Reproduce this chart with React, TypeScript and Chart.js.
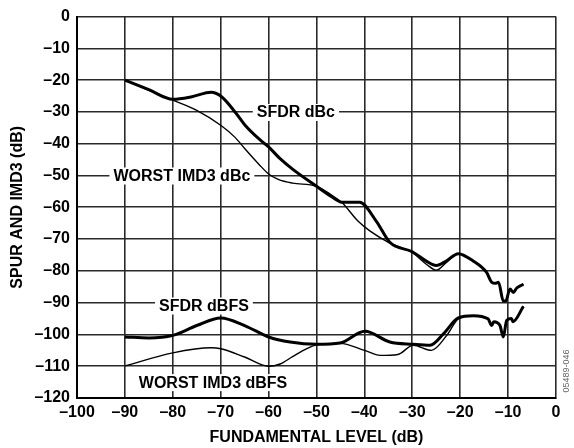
import React, { useEffect, useRef } from "react";
import { Chart, registerables } from "chart.js";

Chart.register(...registerables);

const X_TICKS = [-100, -90, -80, -70, -60, -50, -40, -30, -20, -10, 0];
const Y_TICKS = [0, -10, -20, -30, -40, -50, -60, -70, -80, -90, -100, -110, -120];

const sfdrDbcX = [-90, -85, -80, -76, -72, -70, -67, -65, -62, -60, -57.6, -55, -50, -47, -44.7, -41, -37.5, -34.7, -30, -27, -25, -23, -20.4, -17.3, -14.5, -13.4, -12.7, -12, -11, -10.5, -9.6, -8.9, -8.2, -6.8];
const sfdrDbcY = [-20, -23, -26, -25.2, -23.8, -25, -30, -34, -38.5, -41, -44.7, -48, -53.4, -56.5, -58.4, -58.4, -64.4, -71, -74, -77, -78.3, -77, -74.6, -76.9, -80.5, -83.6, -83.9, -83.6, -89.5, -89.5, -85.7, -86.8, -85.4, -84.2];

const imdDbcX = [-90, -85, -80, -75, -70, -67, -65, -62, -60, -58, -55, -50, -47, -44.7, -41.3, -38.8, -35, -30, -27, -25, -23, -20.4, -17.3, -14.5, -13.4, -12.7, -12, -11, -10.5, -9.6, -8.9, -8.2, -6.8];
const imdDbcY = [-20, -23.2, -26.3, -29.5, -34.2, -38, -41.5, -46.5, -49.5, -51.2, -52.4, -53.4, -56, -58.5, -64.4, -67.5, -71, -74.3, -78, -79.8, -77.5, -74.6, -76.9, -80.5, -83.6, -83.9, -83.6, -89.5, -89.5, -85.7, -86.8, -85.4, -84.2];

const sfdrDbfsX = [-90, -85, -80, -75, -70, -65, -60, -55.5, -50, -45.1, -39.9, -34.7, -29.8, -26.3, -23.5, -20.4, -17.3, -14.2, -13.4, -13, -11.7, -11, -10.3, -9.3, -9, -6.8];
const sfdrDbfsY = [-100.8, -101.1, -100.3, -97.2, -94.8, -97.2, -100.8, -102.4, -103.1, -102.7, -99, -102.4, -103.1, -103.4, -99.8, -94.8, -94.1, -95.1, -97.2, -96, -97.2, -100.8, -95.6, -95, -96, -91.2];

const imdDbfsX = [-90, -80, -72, -70, -65, -60, -57.6, -55, -52, -50, -45.1, -40, -36.7, -33, -29.8, -26, -22.8, -20.4, -17.3, -14.2, -13.4, -13, -11.7, -11, -10.3, -9.3, -9, -6.8];
const imdDbfsY = [-109.9, -105.8, -104.2, -104.5, -107.1, -110, -109.3, -107, -104.5, -103.3, -102.8, -105, -106.6, -106.3, -103.4, -105, -100.3, -95.1, -94.1, -95.1, -97.2, -96, -97.2, -100.8, -95.6, -95, -96, -91.2];

const LABELS = [
  { text: "SFDR dBc", x: -54.3, y: -30 },
  { text: "WORST IMD3 dBc", x: -78.1, y: -50 },
  { text: "SFDR dBFS", x: -73.5, y: -90.9 },
  { text: "WORST IMD3 dBFS", x: -71.6, y: -115 },
];

const FONT = "'Liberation Sans', Arial, Helvetica, sans-serif";

const fmt = (v: number) => (v < 0 ? "\u2013" + Math.abs(v) : String(v));

const toPts = (xs: number[], ys: number[]) => xs.map((x, i) => ({ x, y: ys[i] }));

const labelPlugin = {
  id: "curveLabels",
  beforeDatasetsDraw(chart: any) {
    const { ctx, scales } = chart;
    ctx.save();
    ctx.font = `bold 16px ${FONT}`;
    ctx.textAlign = "center";
    ctx.textBaseline = "middle";
    for (const l of LABELS) {
      const px = scales.x.getPixelForValue(l.x);
      const py = scales.y.getPixelForValue(l.y);
      const w = ctx.measureText(l.text).width;
      ctx.fillStyle = "#fff";
      ctx.fillRect(px - w / 2 - 4, py - 8, w + 8, 17);
      ctx.fillStyle = "#000";
      ctx.fillText(l.text, px, py + 1);
    }
    ctx.restore();
  },
  afterDraw(chart: any) {
    const { ctx } = chart;
    ctx.save();
    ctx.translate(567, 371);
    ctx.rotate(-Math.PI / 2);
    ctx.font = `9px ${FONT}`;
    ctx.fillStyle = "#666";
    ctx.textAlign = "center";
    ctx.textBaseline = "middle";
    ctx.fillText("05489-046", 0, 0);
    ctx.restore();
  },
};

export default function App() {
  const ref = useRef<HTMLCanvasElement>(null);
  useEffect(() => {
    if (!ref.current) return;
    const thick = { borderColor: "#000", borderWidth: 3, pointRadius: 0, cubicInterpolationMode: "monotone" as const, fill: false };
    const thin = { borderColor: "#000", borderWidth: 1.4, pointRadius: 0, cubicInterpolationMode: "monotone" as const, fill: false };
    const tickFont = { family: FONT, size: 16, weight: "bold" as const };
    const chart = new Chart(ref.current, {
      type: "line",
      data: {
        datasets: [
          { label: "SFDR dBc", data: toPts(sfdrDbcX, sfdrDbcY), ...thick },
          { label: "WORST IMD3 dBc", data: toPts(imdDbcX, imdDbcY), ...thin },
          { label: "SFDR dBFS", data: toPts(sfdrDbfsX, sfdrDbfsY), ...thick },
          { label: "WORST IMD3 dBFS", data: toPts(imdDbfsX, imdDbfsY), ...thin },
        ],
      },
      options: {
        animation: false,
        responsive: true,
        maintainAspectRatio: false,
        layout: { padding: { top: 14, right: 18, left: 0, bottom: 0 } },
        plugins: { legend: { display: false }, tooltip: { enabled: false } },
        scales: {
          x: {
            type: "linear",
            min: -100,
            max: 0,
            afterBuildTicks: (s: any) => { s.ticks = X_TICKS.map((v) => ({ value: v })); },
            afterFit: (s: any) => { s.height = 50; },
            ticks: { callback: (v: any) => fmt(Number(v)), color: "#000", font: tickFont, padding: 5, maxRotation: 0, autoSkip: false },
            grid: { color: "#2a2a2a", lineWidth: 1.6, drawTicks: false },
            border: { color: "#000", width: 2 },
            title: { display: true, text: "FUNDAMENTAL LEVEL (dB)", color: "#000", font: tickFont, padding: { top: 0, bottom: 0.5 } },
          },
          y: {
            type: "linear",
            min: -120,
            max: 0,
            afterBuildTicks: (s: any) => { s.ticks = Y_TICKS.map((v) => ({ value: v })); },
            afterFit: (s: any) => { s.width = 77; },
            ticks: { callback: (v: any) => fmt(Number(v)), color: "#000", font: tickFont, padding: 7, autoSkip: false },
            grid: { color: "#2a2a2a", lineWidth: 1.6, drawTicks: false },
            border: { color: "#000", width: 2 },
            title: { display: true, text: "SPUR AND IMD3 (dB)", color: "#000", font: tickFont, padding: { top: 8, bottom: 0 } },
          },
        },
      },
      plugins: [labelPlugin],
    });
    return () => chart.destroy();
  }, []);
  return (
    <div style={{ position: "absolute", left: 0, top: 0, width: 574, height: 448, background: "#fff" }}>
      <canvas ref={ref} />
    </div>
  );
}
